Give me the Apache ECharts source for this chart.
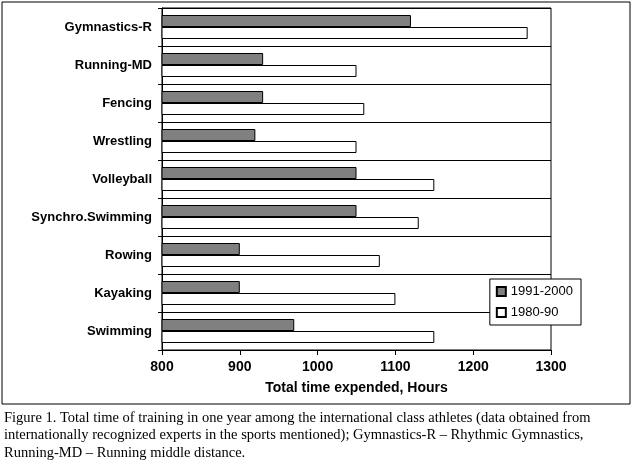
<!DOCTYPE html><html><head><meta charset="utf-8">
<script src="https://cdn.jsdelivr.net/npm/echarts@6/dist/echarts.min.js"></script>
<style>html,body{margin:0;padding:0;background:#fff}#c{width:635px;height:465px}</style></head><body><div id="c"></div>
<script>
var categories=['Gymnastics-R','Running-MD','Fencing','Wrestling','Volleyball','Synchro.Swimming','Rowing','Kayaking','Swimming'];
var s1991=[1120,930,930,920,1050,1050,900,900,970];
var s1980=[1270,1050,1060,1050,1150,1130,1080,1100,1150];
var xTicks=[800,900,1000,1100,1200,1300];
var caption=['Figure 1. Total time of training in one year among the international class athletes (data obtained from','internationally recognized experts in the sports mentioned); Gymnastics-R \u2013 Rhythmic Gymnastics,','Running-MD \u2013 Running middle distance.'];
var ch=echarts.init(document.getElementById('c'));
var F='Liberation Sans';
ch.setOption({
animation:false,
textStyle:{fontFamily:F},
grid:{left:162,top:8,width:389,height:342,show:true,borderColor:'#000',borderWidth:1},
legend:{orient:'vertical',right:54,top:279,itemWidth:9,itemHeight:9,itemGap:8,icon:'rect',
 backgroundColor:'#fff',borderColor:'#000',borderWidth:1,padding:[6,8,6,6],
 textStyle:{fontFamily:F,fontSize:13,color:'#000'},data:['1991-2000','1980-90']},
xAxis:{type:'value',min:xTicks[0],max:xTicks[xTicks.length-1],interval:100,
 axisLine:{show:true,lineStyle:{color:'#000'}},axisTick:{show:true,lineStyle:{color:'#000'}},
 splitLine:{show:false},axisLabel:{color:'#000',fontSize:14,fontWeight:'bold',fontFamily:F,margin:10,formatter:function(v){return String(v);}},
 name:'Total time expended, Hours',nameLocation:'middle',nameGap:31,
 nameTextStyle:{color:'#000',fontSize:14,fontWeight:'bold',fontFamily:F}},
yAxis:{type:'category',data:categories,inverse:true,
 axisLine:{lineStyle:{color:'#000'}},axisTick:{show:true,length:4,lineStyle:{color:'#000'}},
 splitLine:{show:true,lineStyle:{color:'#000'}},
 axisLabel:{color:'#000',fontSize:13,fontWeight:'bold',fontFamily:F,margin:10}},
series:[
 {name:'1991-2000',type:'bar',data:s1991,barWidth:12,barGap:'0%',itemStyle:{color:'#808080',borderColor:'#000',borderWidth:1}},
 {name:'1980-90',type:'bar',data:s1980,barWidth:12,itemStyle:{color:'#fff',borderColor:'#000',borderWidth:1}}
],
graphic:[
 {type:'rect',shape:{x:2,y:2,width:628,height:402},style:{fill:'none',stroke:'#000',lineWidth:1},silent:true},
 {type:'text',left:4,top:409,style:{text:caption.join('\n'),font:'14.5px "Liberation Serif"',fill:'#000',lineHeight:17.5}}
]
});
</script></body></html>
